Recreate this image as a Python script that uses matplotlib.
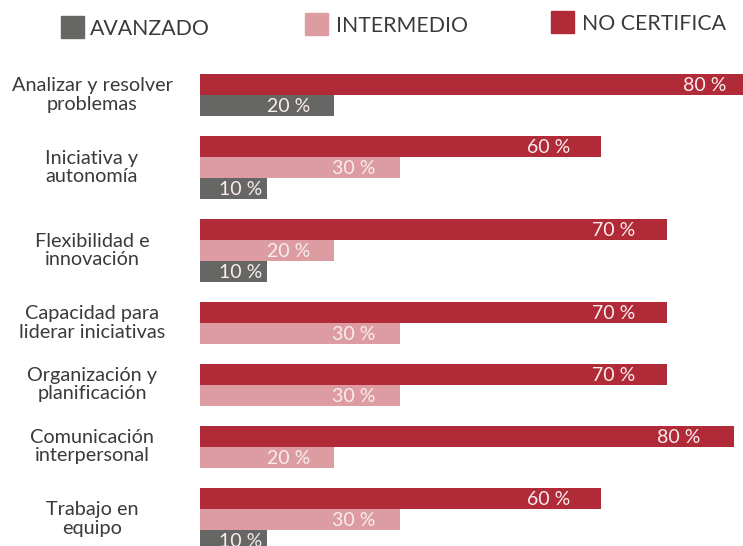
import matplotlib
matplotlib.use("Agg")
import matplotlib.pyplot as plt
from matplotlib.patches import Rectangle
from matplotlib.transforms import blended_transform_factory

categories = [
    "Analizar y resolver\nproblemas",
    "Iniciativa y\nautonomía",
    "Flexibilidad e\ninnovación",
    "Capacidad para\nliderar iniciativas",
    "Organización y\nplanificación",
    "Comunicación\ninterpersonal",
    "Trabajo en\nequipo",
]
series_names = ["NO CERTIFICA", "INTERMEDIO", "AVANZADO"]
no_certifica = [84, 60, 70, 70, 70, 80, 60]
intermedio = [0, 30, 20, 30, 30, 20, 30]
avanzado = [20, 10, 10, 0, 0, 0, 10]
colors = ["#B02A37", "#DD9CA2", "#666664"]

plt.rcParams['font.family'] = ['Lato', 'DejaVu Sans']

W, H = 743, 546
fig = plt.figure(figsize=(W / 100, H / 100), dpi=100)
px = 21.0          # bar slot height in pixels
top_px = 74.0      # first bar top
gap = 0.95         # gap between groups, in slots
ax = fig.add_axes([200 / W, 0, 1 - 200 / W, 1])
unit_per_pct = 6.675  # pixels per percent
ax.set_xlim(0, (W - 200) / unit_per_pct)
ax.set_ylim((H - top_px) / px, -top_px / px)
ax.axis('off')

series = [no_certifica, intermedio, avanzado]
ytr = blended_transform_factory(fig.transFigure, ax.transData)
pos = 0.0
for i, cat in enumerate(categories):
    start = pos
    for s, vals in enumerate(series):
        v = vals[i]
        if v <= 0:
            continue
        ax.barh(pos + 0.5, v, height=1.0, color=colors[s], left=0)
        label = f"{round(v, -1):.0f} %"
        xr = max(v - (3.0 + 0.025 * v), 9.4)
        ax.text(xr, pos + 0.55, label, ha='right', va='center',
                color='#F8EDEE', fontsize=14, fontweight='normal', clip_on=False)
        pos += 1
    center = (start + pos) / 2
    fig.text(92 / W, center, cat, transform=ytr, ha='center', va='center',
             fontsize=14.3, color='#3a3a3a', fontweight='normal', linespacing=1.1)
    pos += gap

# legend
leg = [("AVANZADO", colors[2], 61, 16, 90), ("INTERMEDIO", colors[1], 305, 13, 336),
       ("NO CERTIFICA", colors[0], 551, 11, 582)]
for name, c, x0, y0, tx in leg:
    fig.patches.append(Rectangle((x0 / W, 1 - (y0 + 22) / H), 23 / W, 22 / H,
                                 transform=fig.transFigure, color=c))
    fig.text(tx / W, 1 - (y0 + 13) / H, name, ha='left', va='center',
             fontsize=15.3, color='#3a3a3a', fontweight='normal')

fig.savefig("out.png", dpi=100)
